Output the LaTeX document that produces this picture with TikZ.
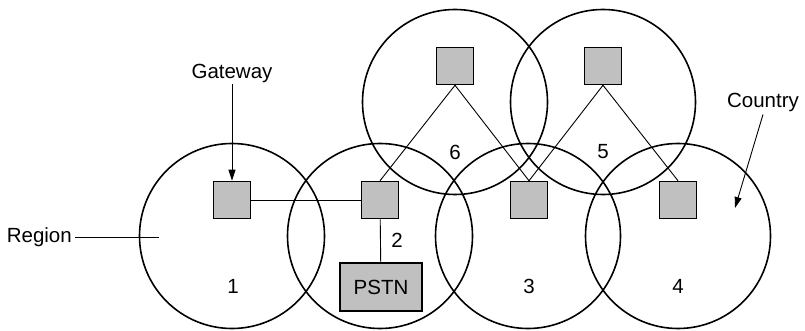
\documentclass[tikz,border=0pt]{standalone}
\usepackage{fontspec}
\setmainfont{Liberation Sans}
\usetikzlibrary{arrows.meta}
\definecolor{boxgray}{RGB}{192,192,192}
\begin{document}
\begin{tikzpicture}[x=1pt,y=-1pt,
  region/.style={circle,draw,line width=1.6pt,minimum size=185pt,inner sep=0pt},
  gw/.style={rectangle,draw,line width=1.5pt,fill=boxgray,minimum size=37pt,inner sep=0pt},
  pstnbox/.style={rectangle,draw,line width=1.5pt,fill=boxgray,minimum width=82pt,minimum height=48pt,inner sep=0pt},
  lbl/.style={inner sep=1pt,font=\fontsize{20.5}{24}\selectfont},
  link/.style={line width=0.9pt},
  pointer/.style={line width=0.9pt,-{Triangle[length=11pt,width=7pt]}}
]
\useasboundingbox (0,0) rectangle (805,331);
% regions
\node[region] (c1) at (232,236) {};
\node[region] (c2) at (380,236) {};
\node[region] (c3) at (528,236) {};
\node[region] (c4) at (678,236) {};
\node[region] (c6) at (455,102) {};
\node[region] (c5) at (603,102) {};
% region numbers
\node[lbl] (n1) at (233,286) {1};
\node[lbl] (n2) at (397,240) {2};
\node[lbl] (n3) at (529,286) {3};
\node[lbl] (n4) at (678,286) {4};
\node[lbl] (n5) at (603,152) {5};
\node[lbl] (n6) at (455,152) {6};
% gateways
\node[gw] (g1) at (232,200) {};
\node[gw] (g2) at (380,200) {};
\node[gw] (g3) at (529,200) {};
\node[gw] (g4) at (678,200) {};
\node[gw] (g6) at (455,66) {};
\node[gw] (g5) at (603,66) {};
\node[pstnbox,lbl] (pstn) at (381,287) {PSTN};
% links
\draw[link] (g1) -- (g2);
\draw[link] (g2) -- (pstn);
\draw[link] (g6.south) -- (g2.north);
\draw[link] (g6.south) -- (g3.north);
\draw[link] (g5.south) -- (g3.north);
\draw[link] (g5.south) -- (g4.north);
% labels
\node[lbl,inner sep=2pt] (gwl) at (232,73) {Gateway};
\draw[pointer] (gwl.south) -- (g1.north);
\node[lbl,anchor=east,inner sep=3pt] (regl) at (75,237) {Region};
\coordinate (regend) at (159,237);
\draw[link] (regl.east) -- (regend);
\node[lbl,inner sep=3pt] (cntl) at (763,102) {Country};
\coordinate (cntend) at (735,208);
\draw[pointer] (cntl.south) -- (cntend);
\end{tikzpicture}
\end{document}
